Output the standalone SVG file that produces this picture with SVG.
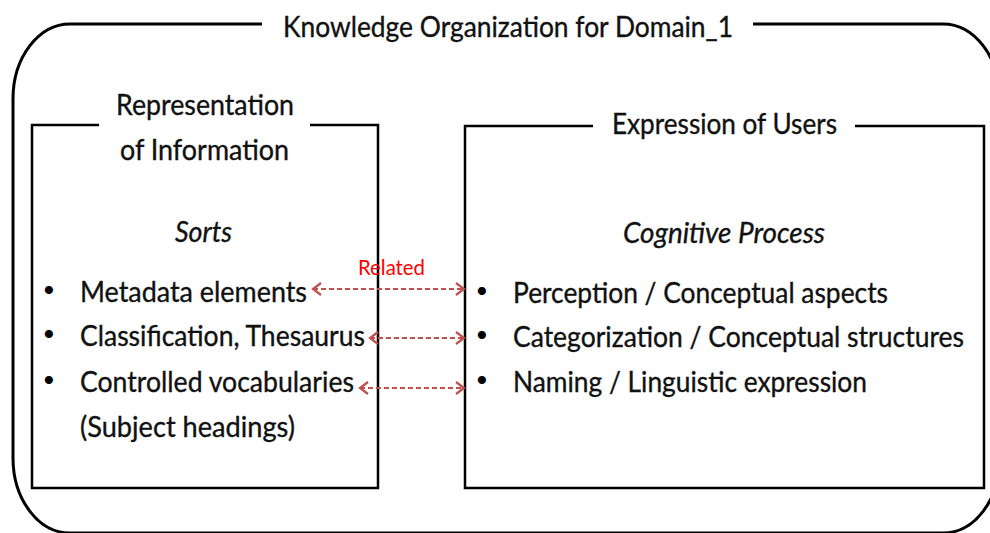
<svg xmlns="http://www.w3.org/2000/svg" width="990" height="533" viewBox="0 0 990 533">
<style>
.frame{fill:none;stroke:#000;stroke-width:3}
.box{fill:none;stroke:#000;stroke-width:2.5}
.t{font-family:Lato,"Open Sans","Liberation Sans",sans-serif;font-size:28px;fill:#111;stroke:#111;stroke-width:0.35}
.it{font-style:italic}
.b{font-family:Lato,"Open Sans","Liberation Sans",sans-serif;font-size:22px;fill:#000;text-anchor:middle}
.rel{font-family:Lato,"Open Sans","Liberation Sans",sans-serif;font-size:22px;fill:#ff0000}
.conn{stroke:#c0504d;stroke-width:2;stroke-dasharray:5 3;fill:none;marker-start:url(#chev);marker-end:url(#chev)}
</style>
<defs>
<marker id="chev" markerUnits="userSpaceOnUse" markerWidth="12" markerHeight="14" refX="9" refY="7" orient="auto-start-reverse" viewBox="0 0 12 14">
<path d="M1,1 L9,7 L1,13" fill="none" stroke="#c0504d" stroke-width="2.2"/>
</marker>
</defs>
<rect width="990" height="533" fill="#fff"/>
<g id="knowledge-organization">
<path class="frame" d="M262,24 H70 A57,75 0 0 0 13,99 V458 A57,75 0 0 0 70,533 H943 A57,75 0 0 0 1000,458 V99 A57,75 0 0 0 943,24 H753"/>
<text class="t" x="283" y="37" textLength="450" lengthAdjust="spacingAndGlyphs">Knowledge Organization for Domain_1</text>
</g>
<g id="representation-of-information">
<path class="box" d="M99,125 H32 V488 H378 V125 H310"/>
<text class="t" x="116" y="115" textLength="178" lengthAdjust="spacingAndGlyphs">Representation</text>
<text class="t" x="120" y="160" textLength="169" lengthAdjust="spacingAndGlyphs">of Information</text>
<text class="t it" x="175" y="242" textLength="57" lengthAdjust="spacingAndGlyphs">Sorts</text>
<text class="b" x="49" y="297">•</text>
<text class="t" x="80" y="302" textLength="227" lengthAdjust="spacingAndGlyphs">Metadata elements</text>
<text class="b" x="49" y="341">•</text>
<text class="t" x="80" y="346" textLength="285" lengthAdjust="spacingAndGlyphs">Classification, Thesaurus</text>
<text class="b" x="49" y="387">•</text>
<text class="t" x="80" y="392" textLength="274" lengthAdjust="spacingAndGlyphs">Controlled vocabularies</text>
<text class="t" x="80" y="437" textLength="215" lengthAdjust="spacingAndGlyphs">(Subject headings)</text>
</g>
<g id="expression-of-users">
<path class="box" d="M593,126 H465 V488 H984 V126 H855"/>
<text class="t" x="612" y="134" textLength="225" lengthAdjust="spacingAndGlyphs">Expression of Users</text>
<text class="t it" x="623" y="243" textLength="202" lengthAdjust="spacingAndGlyphs">Cognitive Process</text>
<text class="b" x="482" y="298">•</text>
<text class="t" x="513" y="303" textLength="375" lengthAdjust="spacingAndGlyphs">Perception / Conceptual aspects</text>
<text class="b" x="482" y="342">•</text>
<text class="t" x="513" y="347" textLength="451" lengthAdjust="spacingAndGlyphs">Categorization / Conceptual structures</text>
<text class="b" x="482" y="387">•</text>
<text class="t" x="513" y="392" textLength="354" lengthAdjust="spacingAndGlyphs">Naming / Linguistic expression</text>
</g>
<g id="connectors">
<text class="rel" x="358" y="275" textLength="67" lengthAdjust="spacingAndGlyphs">Related</text>
<line class="conn" x1="313" y1="289" x2="464" y2="289"/>
<line class="conn" x1="370" y1="338" x2="464" y2="338"/>
<line class="conn" x1="360" y1="388" x2="464" y2="388"/>
</g>
</svg>
